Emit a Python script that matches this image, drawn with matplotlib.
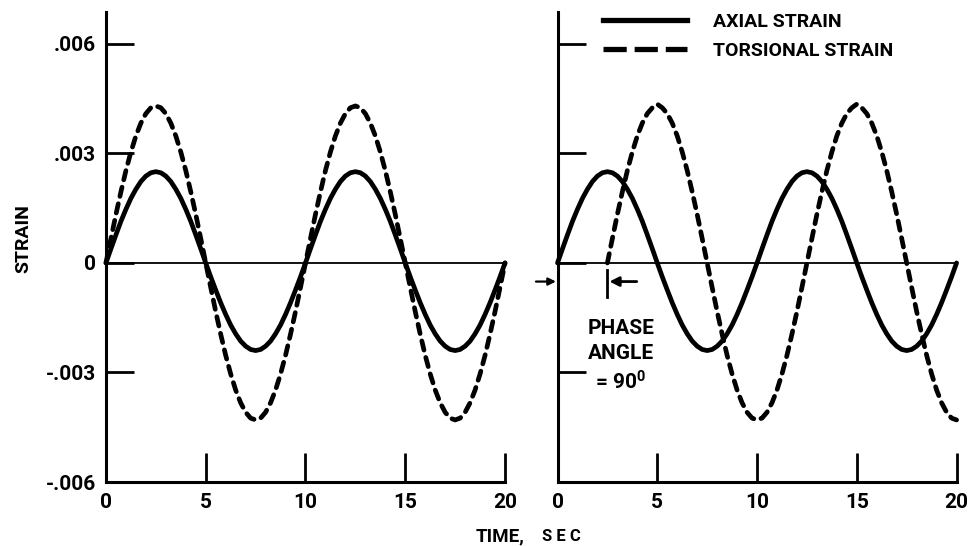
import matplotlib
matplotlib.use("Agg")
import matplotlib.pyplot as plt
from matplotlib.lines import Line2D

# ---------------- data ----------------
time = [0.0, 0.25, 0.5, 0.75, 1.0, 1.25, 1.5, 1.75, 2.0, 2.25,
        2.5, 2.75, 3.0, 3.25, 3.5, 3.75, 4.0, 4.25, 4.5, 4.75,
        5.0, 5.25, 5.5, 5.75, 6.0, 6.25, 6.5, 6.75, 7.0, 7.25,
        7.5, 7.75, 8.0, 8.25, 8.5, 8.75, 9.0, 9.25, 9.5, 9.75,
        10.0, 10.25, 10.5, 10.75, 11.0, 11.25, 11.5, 11.75, 12.0, 12.25,
        12.5, 12.75, 13.0, 13.25, 13.5, 13.75, 14.0, 14.25, 14.5, 14.75,
        15.0, 15.25, 15.5, 15.75, 16.0, 16.25, 16.5, 16.75, 17.0, 17.25,
        17.5, 17.75, 18.0, 18.25, 18.5, 18.75, 19.0, 19.25, 19.5, 19.75, 20.0]

axial = [0.0, 0.00039, 0.00077, 0.00114, 0.00147, 0.00177, 0.00202, 0.00223, 0.00238, 0.00247,
         0.00250, 0.00247, 0.00238, 0.00223, 0.00202, 0.00177, 0.00147, 0.00114, 0.00077, 0.00039,
         0.0, -0.00038, -0.00074, -0.00109, -0.00141, -0.00170, -0.00194, -0.00214, -0.00228, -0.00237,
         -0.00240, -0.00237, -0.00228, -0.00214, -0.00194, -0.00170, -0.00141, -0.00109, -0.00074, -0.00038,
         0.0, 0.00039, 0.00077, 0.00114, 0.00147, 0.00177, 0.00202, 0.00223, 0.00238, 0.00247,
         0.00250, 0.00247, 0.00238, 0.00223, 0.00202, 0.00177, 0.00147, 0.00114, 0.00077, 0.00039,
         0.0, -0.00038, -0.00074, -0.00109, -0.00141, -0.00170, -0.00194, -0.00214, -0.00228, -0.00237,
         -0.00240, -0.00237, -0.00228, -0.00214, -0.00194, -0.00170, -0.00141, -0.00109, -0.00074, -0.00038, 0.0]

torsional_in_phase = [0.0, 0.00067, 0.00133, 0.00195, 0.00253, 0.00304, 0.00348, 0.00383, 0.00409, 0.00425,
                      0.00430, 0.00425, 0.00409, 0.00383, 0.00348, 0.00304, 0.00253, 0.00195, 0.00133, 0.00067,
                      0.0, -0.00067, -0.00133, -0.00195, -0.00253, -0.00304, -0.00348, -0.00383, -0.00409, -0.00425,
                      -0.00430, -0.00425, -0.00409, -0.00383, -0.00348, -0.00304, -0.00253, -0.00195, -0.00133, -0.00067,
                      0.0, 0.00067, 0.00133, 0.00195, 0.00253, 0.00304, 0.00348, 0.00383, 0.00409, 0.00425,
                      0.00430, 0.00425, 0.00409, 0.00383, 0.00348, 0.00304, 0.00253, 0.00195, 0.00133, 0.00067,
                      0.0, -0.00067, -0.00133, -0.00195, -0.00253, -0.00304, -0.00348, -0.00383, -0.00409, -0.00425,
                      -0.00430, -0.00425, -0.00409, -0.00383, -0.00348, -0.00304, -0.00253, -0.00195, -0.00133, -0.00067, 0.0]

time_out_of_phase = [2.5, 2.75, 3.0, 3.25, 3.5, 3.75, 4.0, 4.25, 4.5, 4.75,
                     5.0, 5.25, 5.5, 5.75, 6.0, 6.25, 6.5, 6.75, 7.0, 7.25,
                     7.5, 7.75, 8.0, 8.25, 8.5, 8.75, 9.0, 9.25, 9.5, 9.75,
                     10.0, 10.25, 10.5, 10.75, 11.0, 11.25, 11.5, 11.75, 12.0, 12.25,
                     12.5, 12.75, 13.0, 13.25, 13.5, 13.75, 14.0, 14.25, 14.5, 14.75,
                     15.0, 15.25, 15.5, 15.75, 16.0, 16.25, 16.5, 16.75, 17.0, 17.25,
                     17.5, 17.75, 18.0, 18.25, 18.5, 18.75, 19.0, 19.25, 19.5, 19.75, 20.0]
torsional_out_of_phase = [0.0, 0.00067, 0.00133, 0.00195, 0.00253, 0.00304, 0.00348, 0.00383, 0.00409, 0.00425,
                          0.00435, 0.00425, 0.00409, 0.00383, 0.00348, 0.00304, 0.00253, 0.00195, 0.00133, 0.00067,
                          0.0, -0.00067, -0.00133, -0.00195, -0.00253, -0.00304, -0.00348, -0.00383, -0.00409, -0.00425,
                          -0.00430, -0.00425, -0.00409, -0.00383, -0.00348, -0.00304, -0.00253, -0.00195, -0.00133, -0.00067,
                          0.0, 0.00067, 0.00133, 0.00195, 0.00253, 0.00304, 0.00348, 0.00383, 0.00409, 0.00425,
                          0.00435, 0.00425, 0.00409, 0.00383, 0.00348, 0.00304, 0.00253, 0.00195, 0.00133, 0.00067,
                          0.0, -0.00067, -0.00133, -0.00195, -0.00253, -0.00304, -0.00348, -0.00383, -0.00409, -0.00425,
                          -0.00430]

x_ticks = [0, 5, 10, 15, 20]
x_tick_labels = ["0", "5", "10", "15", "20"]
y_ticks = [-0.006, -0.003, 0.0, 0.003, 0.006]
y_tick_labels = ["-.006", "-.003", "0", ".003", ".006"]
series_labels = ["AXIAL STRAIN", "TORSIONAL STRAIN"]

# ---------------- style ----------------
plt.rcParams["font.family"] = ["Roboto", "DejaVu Sans"]
plt.rcParams["font.weight"] = "bold"
plt.rcParams["mathtext.fontset"] = "custom"
plt.rcParams["mathtext.rm"] = "Roboto:bold"
plt.rcParams["mathtext.default"] = "rm"

LW = 3.4
DASH = (2.0, 1.6)

fig = plt.figure(figsize=(9.74, 5.46), dpi=100)
axL = fig.add_axes([0.1088, 0.1172, 0.4097, 0.8613])
axR = fig.add_axes([0.5724, 0.1172, 0.4097, 0.8613])

YTOP = 0.00688
for ax in (axL, axR):
    ax.set_xlim(0, 20)
    ax.set_ylim(-0.006, YTOP)
    for s in ("top", "right"):
        ax.spines[s].set_visible(False)
    for s in ("left", "bottom"):
        ax.spines[s].set_linewidth(2.2)
        ax.spines[s].set_capstyle("projecting")
    ax.set_xticks(x_ticks)
    ax.set_yticks(y_ticks)
    ax.tick_params(axis="both", direction="in", width=2.0, colors="black")
    ax.tick_params(axis="x", length=21, pad=8, labelsize=15)
    ax.tick_params(axis="y", length=20, pad=7, labelsize=15)
    ax.set_xticklabels(x_tick_labels)
    ax.axhline(0, color="black", lw=1.3, zorder=1)
    ax.patch.set_alpha(0)

axL.set_yticklabels(y_tick_labels)
axR.set_yticklabels([])

# left panel: in phase
axL.plot(time, axial, color="black", lw=LW, solid_capstyle="round", clip_on=False, zorder=3)
axL.plot(time, torsional_in_phase, color="black", lw=LW, dashes=DASH, dash_capstyle="round",
         clip_on=False, zorder=3)

# right panel: 90 deg out of phase
axR.plot(time, axial, color="black", lw=LW, solid_capstyle="round", clip_on=False, zorder=3)
axR.plot(time_out_of_phase, torsional_out_of_phase, color="black", lw=LW, dashes=DASH,
         dash_capstyle="round", clip_on=False, zorder=3)

# legend (proxies carry only style)
proxies = [Line2D([], [], color="black", lw=3.8),
           Line2D([], [], color="black", lw=3.8, dashes=(4.4, 1.5))]
leg = fig.legend(proxies, series_labels, loc="upper left", bbox_to_anchor=(0.619, 0.976),
                 bbox_transform=fig.transFigure, frameon=False, fontsize=14,
                 handlelength=4.3, handletextpad=1.35, labelspacing=0.55,
                 borderpad=0, borderaxespad=0)

# phase angle annotation
axR.plot([2.5, 2.5], [-0.00019, -0.00092], color="black", lw=2.0, clip_on=False)
axR.annotate("", xy=(2.6, -0.00051), xytext=(3.97, -0.00051),
             arrowprops=dict(arrowstyle="-|>", color="black", lw=2.0,
                             mutation_scale=14, shrinkA=0, shrinkB=0),
             annotation_clip=False)
axR.annotate("", xy=(-0.08, -0.00051), xytext=(-1.08, -0.00051),
             arrowprops=dict(arrowstyle="-|>", color="black", lw=1.6,
                             mutation_scale=11, shrinkA=0, shrinkB=0),
             annotation_clip=False)
axR.text(3.16, -0.00255, "PHASE\nANGLE\n= 90$^{0}$", ha="center", va="center",
         fontsize=15, linespacing=1.4)

# axis titles
fig.text(0.0236, 0.5623, "STRAIN", rotation=90, ha="center", va="center", fontsize=14)
fig.text(0.539, 0.0183, "TIME,", ha="right", va="center", fontsize=13.5)
fig.text(0.556, 0.0183, "S E C", ha="left", va="center", fontsize=12)

fig.savefig("out.png", dpi=100)
